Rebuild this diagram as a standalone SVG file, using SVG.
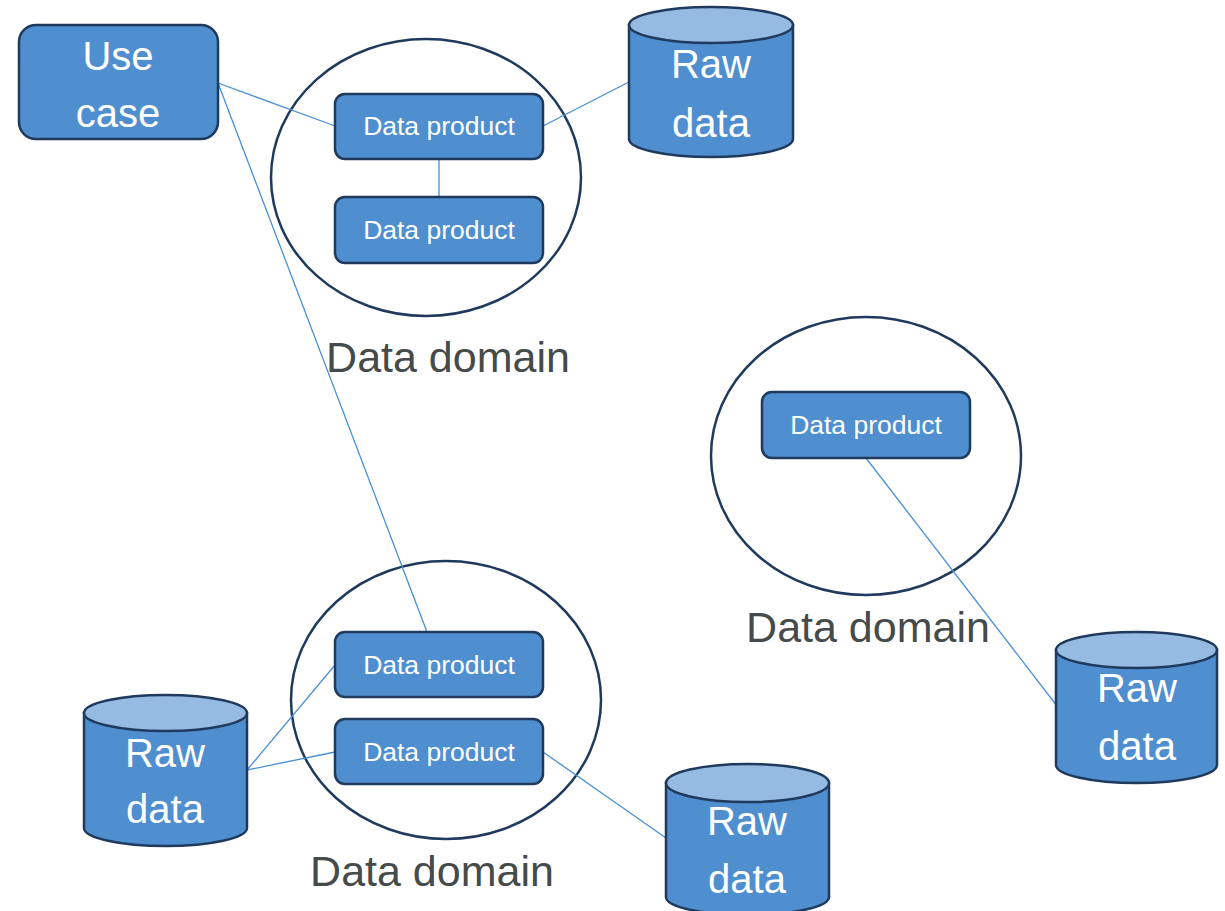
<svg xmlns="http://www.w3.org/2000/svg" width="1225" height="911" viewBox="0 0 1225 911">
<style>
.box{fill:#4f8fcf;stroke:#1f3a5c;stroke-width:2.5}
.cyl{fill:#4f8fcf;stroke:#1f3a5c;stroke-width:2.5}
.top{fill:#95bbe2;stroke:#1f3a5c;stroke-width:2.5}
.dom{fill:none;stroke:#1f3a5c;stroke-width:2.5}
.con{stroke:#4a8fd6;stroke-width:1.3;fill:none}
.t{font-family:"Liberation Sans",Arial,sans-serif;fill:#ffffff;text-anchor:middle}
.big{font-size:40px}
.sm{font-size:26.5px}
.lbl{font-family:"Liberation Sans",Arial,sans-serif;fill:#454a4a;font-size:43px;text-anchor:middle}
</style>
<rect width="1225" height="911" fill="#ffffff"/>
<g id="domain-top">
<ellipse class="dom" cx="426" cy="177.5" rx="155" ry="138.5"/>
<text class="lbl" x="448" y="372">Data domain</text>
</g>
<g id="domain-bottom">
<ellipse class="dom" cx="446" cy="700" rx="155" ry="139"/>
<text class="lbl" x="432" y="886">Data domain</text>
</g>
<g id="domain-right">
<ellipse class="dom" cx="866" cy="456" rx="155" ry="139"/>
<text class="lbl" x="868" y="642">Data domain</text>
</g>
<g id="connectors">
<line class="con" x1="218" y1="83" x2="335" y2="126"/>
<line class="con" x1="218" y1="83" x2="427" y2="632"/>
<line class="con" x1="543" y1="126" x2="629" y2="82"/>
<line class="con" x1="439" y1="159" x2="439" y2="197"/>
<line class="con" x1="866" y1="458" x2="1057" y2="706"/>
<line class="con" x1="247" y1="770" x2="335" y2="665"/>
<line class="con" x1="247" y1="770" x2="335" y2="752"/>
<line class="con" x1="543" y1="752" x2="666" y2="838"/>
</g>
<g id="use-case">
<rect class="box" x="19" y="25" width="199" height="114" rx="17"/>
<text class="t big" x="118" y="70">Use</text>
<text class="t big" x="118" y="127">case</text>
</g>
<g id="dp-top-1">
<rect class="box" x="335" y="94" width="208" height="65" rx="10"/>
<text class="t sm" x="439" y="135">Data product</text>
</g>
<g id="dp-top-2">
<rect class="box" x="335" y="197" width="208" height="66" rx="10"/>
<text class="t sm" x="439" y="239">Data product</text>
</g>
<g id="dp-right">
<rect class="box" x="762" y="392" width="208" height="66" rx="10"/>
<text class="t sm" x="866" y="434">Data product</text>
</g>
<g id="dp-bottom-1">
<rect class="box" x="335" y="632" width="208" height="65" rx="10"/>
<text class="t sm" x="439" y="674">Data product</text>
</g>
<g id="dp-bottom-2">
<rect class="box" x="335" y="719" width="208" height="65" rx="10"/>
<text class="t sm" x="439" y="761">Data product</text>
</g>
<g id="raw-top">
<path class="cyl" d="M629,25 L629,139 A82,18 0 0 0 793,139 L793,25 Z"/>
<ellipse class="top" cx="711" cy="25" rx="82" ry="18"/>
<text class="t big" x="711" y="78">Raw</text>
<text class="t big" x="711" y="137">data</text>
</g>
<g id="raw-left">
<path class="cyl" d="M84,713 L84,828 A81.5,18 0 0 0 247,828 L247,713 Z"/>
<ellipse class="top" cx="165.5" cy="713" rx="81.5" ry="18"/>
<text class="t big" x="165" y="767">Raw</text>
<text class="t big" x="165" y="823">data</text>
</g>
<g id="raw-bottom">
<path class="cyl" d="M666,783 L666,897 A81.5,18 0 0 0 829,897 L829,783 Z"/>
<ellipse class="top" cx="747.5" cy="783" rx="81.5" ry="19"/>
<text class="t big" x="747" y="835">Raw</text>
<text class="t big" x="747" y="893">data</text>
</g>
<g id="raw-right">
<path class="cyl" d="M1056,650 L1056,765 A80.5,18 0 0 0 1217,765 L1217,650 Z"/>
<ellipse class="top" cx="1136.5" cy="650" rx="80.5" ry="18"/>
<text class="t big" x="1137" y="702">Raw</text>
<text class="t big" x="1137" y="760">data</text>
</g>
</svg>
